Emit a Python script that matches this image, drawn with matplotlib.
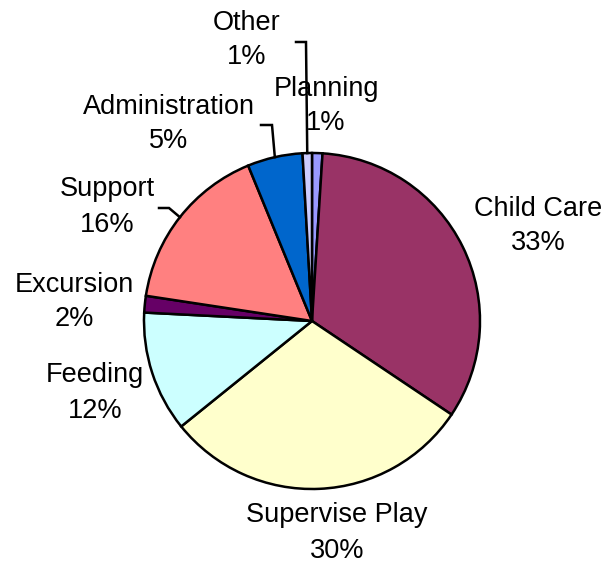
import numpy as np
import matplotlib
matplotlib.use('Agg')
import matplotlib.pyplot as plt

plt.rcParams['font.family'] = ['Liberation Sans', 'DejaVu Sans']

categories = ['Planning', 'Child Care', 'Supervise Play', 'Feeding',
              'Excursion', 'Support', 'Administration', 'Other']
values = [1.0, 33.4, 29.8, 11.6, 1.6, 16.4, 5.3, 0.9]
colors = ['#9999FF', '#993366', '#FFFFCC', '#CCFFFF',
          '#660066', '#FF8080', '#0066CC', '#CCCCFF']

W, H = 604, 563
# label centres in image pixels (y from top)
label_pos = {
    'Planning': (326, 106),
    'Child Care': (538, 226),
    'Supervise Play': (337, 533),
    'Feeding': (95, 393),
    'Excursion': (74, 302),
    'Support': (107, 207),
    'Administration': (169, 124),
    'Other': (247, 40),
}
# leader lines: (horizontal start, elbow) in image pixels
leaders = {
    'Other': ((296, 42), (306, 42)),
    'Administration': ((261, 125), (272, 125)),
    'Support': ((159, 208), (169, 208)),
}

fig = plt.figure(figsize=(W / 100, H / 100), dpi=100)
ax = fig.add_axes([0, 0, 1, 1])

cx, cy, r = 312, H - 321, 168
wedges, _ = ax.pie(values, colors=colors, startangle=90, counterclock=False,
                   center=(cx, cy), radius=r, frame=True,
                   wedgeprops=dict(edgecolor='black', linewidth=1.8))
ax.set_xlim(0, W)
ax.set_ylim(0, H)
ax.set_aspect('equal')
ax.axis('off')

total = sum(values)
for name, v in zip(categories, values):
    x, y = label_pos[name]
    ax.text(x, H - y, f'{name}\n{round(v / total * 100):.0f}%', ha='center',
            va='center', fontsize=19.5, linespacing=1.45)

for name, ((x0, y0), (x1, y1)) in leaders.items():
    w = wedges[categories.index(name)]
    mid = np.deg2rad((w.theta1 + w.theta2) / 2)
    ex, ey = cx + r * np.cos(mid), cy + r * np.sin(mid)
    ax.plot([x0, x1, ex], [H - y0, H - y1, ey], color='black', lw=1.8,
            solid_joinstyle='miter')

fig.savefig('out.png', dpi=100)
